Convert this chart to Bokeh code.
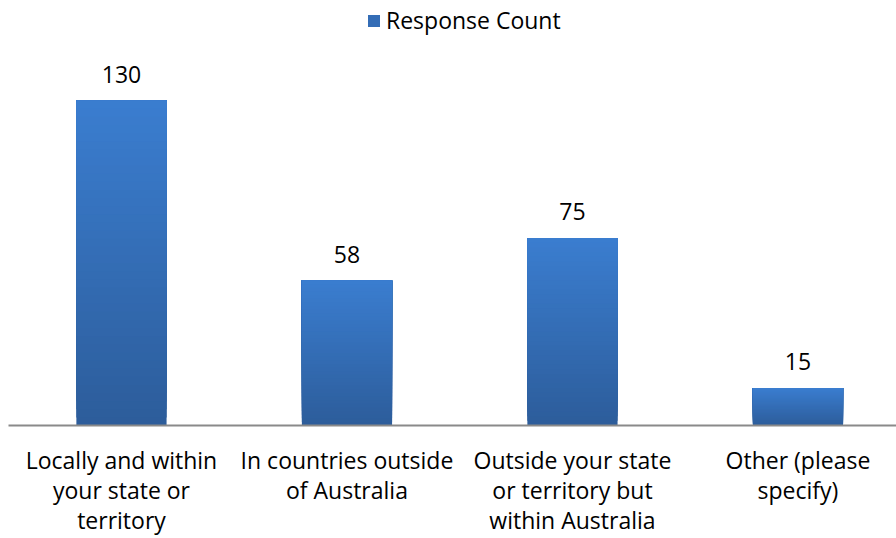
import numpy as np
from bokeh.plotting import figure
from bokeh.models import ColumnDataSource, Range1d, FixedTicker, LabelSet, Legend, LegendItem
from bokeh.core.properties import value
from bokeh.embed import file_html
from bokeh.resources import INLINE

categories = [
    "Locally and within\nyour state or\nterritory",
    "In countries outside\nof Australia",
    "Outside your state\nor territory but\nwithin Australia",
    "Other (please\nspecify)",
]
counts = [130, 58, 75, 15]
series_name = "Response Count"

positions = list(range(len(categories)))
FONT = "Open Sans"

p = figure(frame_width=888, frame_height=425, output_backend="svg", toolbar_location=None,
           x_range=Range1d(-0.501, 3.437), y_range=Range1d(0, 170),
           y_axis_location=None, min_border_left=8, min_border_right=0,
           min_border_top=0, min_border_bottom=113)
p.xgrid.visible = False
p.ygrid.visible = False
p.outline_line_color = None

# gradient bars: each strip runs from its start up to the bar top, drawn bottom-first
top_rgb = np.array([59, 126, 208])
bot_rgb = np.array([45, 93, 155])
n = 40
xs, bots, tops, cols = [], [], [], []
for x, v in zip(positions, counts):
    for k in range(n):
        f = (k + 0.5) / n
        c = (bot_rgb + (top_rgb - bot_rgb) * f).astype(int)
        xs.append(x)
        bots.append(v * k / n)
        tops.append(v)
        cols.append("#%02x%02x%02x" % tuple(c))
bsrc = ColumnDataSource(dict(x=xs, bottom=bots, top=tops, color=cols))
r = p.vbar(x="x", bottom="bottom", top="top", width=0.4, source=bsrc,
           fill_color="color", line_color=None)

legend = Legend(items=[LegendItem(label=series_name, renderers=[r], index=n // 2)],
                location=(358, 389), orientation="horizontal")
legend.border_line_color = None
legend.background_fill_alpha = 0
legend.label_text_font = FONT
legend.label_text_font_size = "23px"
legend.label_text_color = "#000000"
legend.glyph_width = 15
legend.glyph_height = 15
legend.margin = 0
legend.padding = 2
legend.label_standoff = 5
p.add_layout(legend)

lsrc = ColumnDataSource(dict(x=positions, y=counts, t=[str(c) for c in counts]))
p.add_layout(LabelSet(x="x", y="y", text="t", source=lsrc, text_align="center",
                      text_baseline="alphabetic", y_offset=18, text_font=value(FONT),
                      text_font_size=value("23px"), text_color="#000000"))

ax = p.xaxis[0]
ax.ticker = FixedTicker(ticks=positions)
ax.major_label_overrides = {i: c for i, c in zip(positions, categories)}
ax.major_tick_line_color = None
ax.minor_tick_line_color = None
ax.major_tick_out = 0
ax.major_tick_in = 0
ax.major_label_standoff = 18
ax.axis_line_color = "#8a8a8a"
ax.axis_line_width = 2
ax.major_label_text_font = FONT
ax.major_label_text_font_size = "23px"
ax.major_label_text_color = "#000000"
ax.major_label_text_line_height = 0.95

open("out.html", "w").write(file_html(p, INLINE))
